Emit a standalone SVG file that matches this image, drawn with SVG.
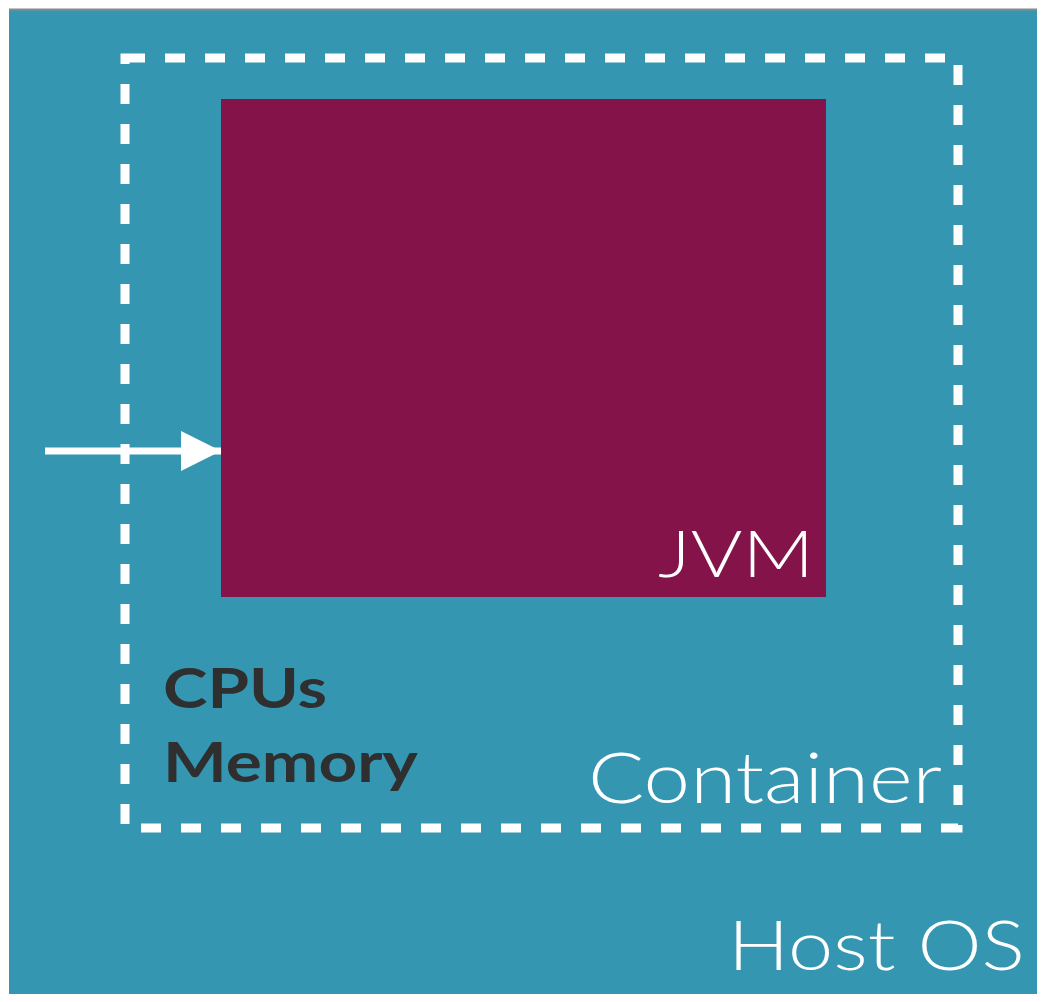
<svg xmlns="http://www.w3.org/2000/svg" width="1048" height="1002" viewBox="0 0 1048 1002">
<style>
.thin{font-family:Lato,"Open Sans","Liberation Sans",sans-serif;font-weight:300;fill:#ffffff}
.bold{font-family:Lato,"Liberation Sans",sans-serif;font-weight:700;fill:#2f2f30}
</style>
<defs>
<marker id="ah" viewBox="0 0 40 40" refX="40" refY="20" markerWidth="40" markerHeight="40" markerUnits="userSpaceOnUse" orient="auto">
<path d="M0,0 L40,20 L0,40 Z" fill="#ffffff"/>
</marker>
</defs>
<rect x="0" y="0" width="1048" height="1002" fill="#ffffff"/>
<g id="host">
<rect x="9" y="9" width="1028" height="985" fill="#3596B2"/>
<line x1="9" y1="9.5" x2="1037" y2="9.5" stroke="#8a8a8a" stroke-width="2"/>
<text class="thin" x="1025" y="970" font-size="68" text-anchor="end" textLength="297" lengthAdjust="spacingAndGlyphs">Host OS</text>
</g>
<g id="container">
<rect x="125" y="58" width="833" height="770" fill="none" stroke="#ffffff" stroke-width="9" stroke-dasharray="20 20"/>
<text class="thin" x="942" y="803" font-size="70" text-anchor="end" textLength="354" lengthAdjust="spacingAndGlyphs">Container</text>
<text class="bold" x="163" y="708" font-size="55" textLength="164" lengthAdjust="spacingAndGlyphs">CPUs</text>
<text class="bold" x="163" y="782" font-size="55" textLength="255" lengthAdjust="spacingAndGlyphs">Memory</text>
</g>
<g id="jvm">
<rect x="221" y="99" width="605" height="498" fill="#84134A"/>
<text class="thin" x="814" y="577" font-size="66" text-anchor="end" textLength="156" lengthAdjust="spacingAndGlyphs">JVM</text>
</g>
<g id="connectors">
<line x1="45" y1="451" x2="221" y2="451" stroke="#ffffff" stroke-width="7" marker-end="url(#ah)"/>
</g>
</svg>
